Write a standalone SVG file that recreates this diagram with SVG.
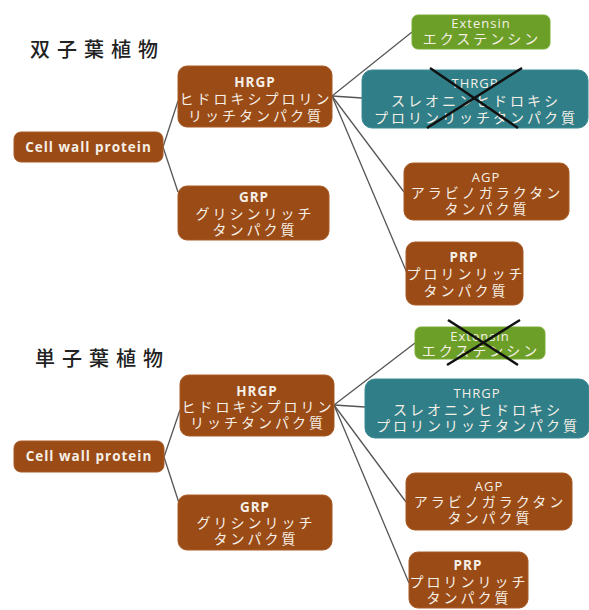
<svg xmlns="http://www.w3.org/2000/svg" width="589" height="610" viewBox="0 0 589 610">
<style>
.b{fill:#9a4b16;stroke:#a85a24;stroke-width:1}
.g{fill:#6b9f27;stroke:#7aab35;stroke-width:1}
.t{fill:#2f7e88;stroke:#3b8a94;stroke-width:1}
text{font-family:"Open Sans","Noto Sans CJK JP",sans-serif;fill:#f6efe6;text-anchor:middle}
.en{font-size:13.5px;font-weight:bold;letter-spacing:1px}
.enr{font-size:13px;letter-spacing:1px}
.jp{font-family:"Noto Sans CJK JP",sans-serif;font-size:14px;letter-spacing:3px}
.title{font-family:"Noto Sans CJK JP",sans-serif;font-size:20px;font-weight:500;fill:#222;text-anchor:start;letter-spacing:7px}
.c line{stroke:#555;stroke-width:1.3}
.x line{stroke:#111;stroke-width:2.5}
</style>
<text class="title" x="30" y="57">双子葉植物</text>
<text class="title" x="35" y="366">単子葉植物</text>
<g class="c">
<line x1="163" y1="147" x2="178" y2="101"/>
<line x1="163" y1="147" x2="178" y2="192"/>
<line x1="332" y1="96" x2="412" y2="32"/>
<line x1="332" y1="96" x2="362" y2="98"/>
<line x1="332" y1="96" x2="404" y2="192"/>
<line x1="332" y1="96" x2="407" y2="273"/>
<line x1="164" y1="457" x2="180" y2="410"/>
<line x1="164" y1="457" x2="179" y2="503"/>
<line x1="334" y1="405" x2="415" y2="343"/>
<line x1="334" y1="405" x2="365" y2="407"/>
<line x1="334" y1="405" x2="406" y2="502"/>
<line x1="334" y1="405" x2="409" y2="583"/>
</g>
<g id="cwp1"><rect class="b" x="14" y="132" width="149" height="30" rx="7"/><text class="en" x="88.5" y="152">Cell wall protein</text></g>
<g id="hrgp1"><rect class="b" x="178" y="66" width="154" height="61" rx="9"/><text class="en" x="255" y="87">HRGP</text><text class="jp" x="256" y="104">ヒドロキシプロリン</text><text class="jp" x="256" y="121">リッチタンパク質</text></g>
<g id="grp1"><rect class="b" x="178" y="186" width="151" height="54" rx="9"/><text class="en" x="254" y="202">GRP</text><text class="jp" x="255" y="219">グリシンリッチ</text><text class="jp" x="255" y="235">タンパク質</text></g>
<g id="ext1"><rect class="g" x="412" y="15" width="138" height="34" rx="6"/><text class="enr" x="481" y="28">Extensin</text><text class="jp" x="482" y="44">エクステンシン</text></g>
<g id="thrgp1"><rect class="t" x="362" y="70" width="226" height="58" rx="10"/><text class="enr" x="475" y="88">THRGP</text><text class="jp" x="476" y="106">スレオニンヒドロキシ</text><text class="jp" x="476" y="123">プロリンリッチタンパク質</text></g>
<g id="agp1"><rect class="b" x="404" y="163" width="165" height="57" rx="9"/><text class="enr" x="486" y="182">AGP</text><text class="jp" x="487" y="198">アラビノガラクタン</text><text class="jp" x="487" y="214">タンパク質</text></g>
<g id="prp1"><rect class="b" x="406" y="242" width="117" height="63" rx="9"/><text class="en" x="464" y="262">PRP</text><text class="jp" x="466" y="279">プロリンリッチ</text><text class="jp" x="466" y="296">タンパク質</text></g>
<g id="cwp2"><rect class="b" x="14" y="441" width="150" height="31" rx="7"/><text class="en" x="89" y="461">Cell wall protein</text></g>
<g id="hrgp2"><rect class="b" x="180" y="375" width="154" height="61" rx="9"/><text class="en" x="257" y="396">HRGP</text><text class="jp" x="258" y="412">ヒドロキシプロリン</text><text class="jp" x="258" y="428">リッチタンパク質</text></g>
<g id="grp2"><rect class="b" x="178" y="495" width="154" height="55" rx="9"/><text class="en" x="255" y="512">GRP</text><text class="jp" x="256" y="528">グリシンリッチ</text><text class="jp" x="256" y="544">タンパク質</text></g>
<g id="ext2"><rect class="g" x="415" y="327" width="130" height="32" rx="6"/><text class="enr" x="480" y="341">Extensin</text><text class="jp" x="481" y="356">エクステンシン</text></g>
<g id="thrgp2"><rect class="t" x="365" y="379" width="224" height="59" rx="10"/><text class="enr" x="477" y="398">THRGP</text><text class="jp" x="478" y="415">スレオニンヒドロキシ</text><text class="jp" x="478" y="431">プロリンリッチタンパク質</text></g>
<g id="agp2"><rect class="b" x="406" y="473" width="166" height="57" rx="9"/><text class="enr" x="489" y="491">AGP</text><text class="jp" x="490" y="507">アラビノガラクタン</text><text class="jp" x="490" y="523">タンパク質</text></g>
<g id="prp2"><rect class="b" x="409" y="552" width="119" height="56" rx="9"/><text class="en" x="468" y="570">PRP</text><text class="jp" x="469" y="587">プロリンリッチ</text><text class="jp" x="469" y="603">タンパク質</text></g>
<g class="x">
<line x1="430" y1="68" x2="518" y2="128"/>
<line x1="522" y1="68" x2="427" y2="128"/>
<line x1="448" y1="320" x2="518" y2="365"/>
<line x1="520" y1="320" x2="447" y2="365"/>
</g>
</svg>
